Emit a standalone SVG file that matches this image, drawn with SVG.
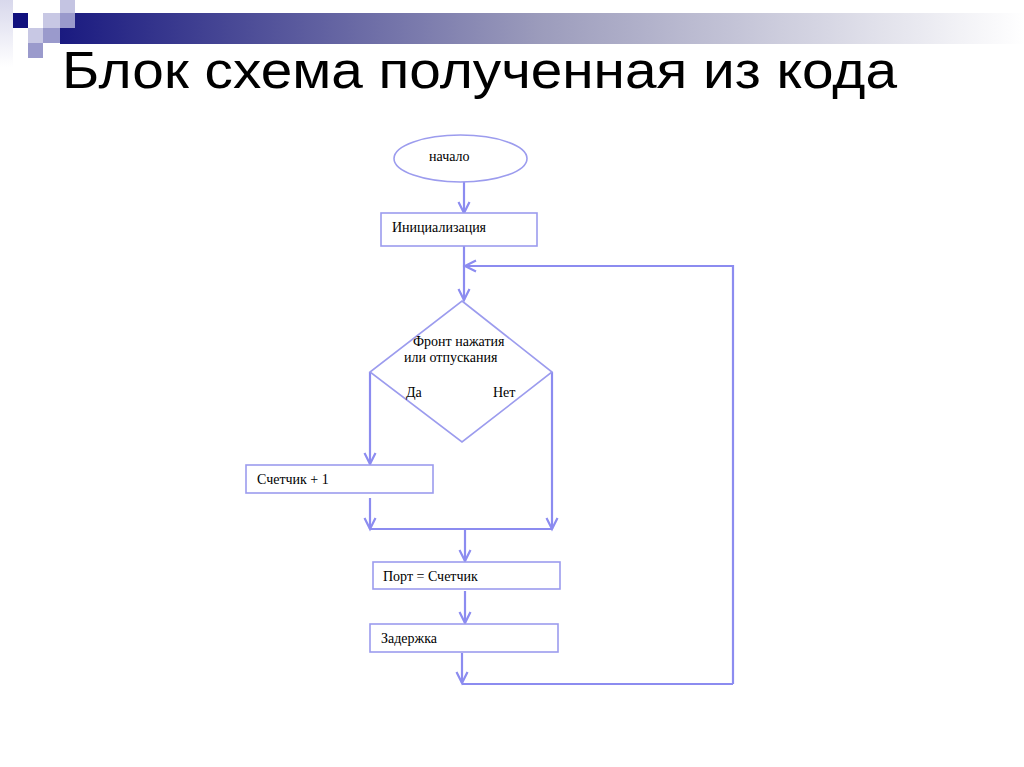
<svg xmlns="http://www.w3.org/2000/svg" width="1024" height="767" viewBox="0 0 1024 767">
<defs>
<linearGradient id="bar" x1="0" y1="0" x2="1" y2="0">
<stop offset="0" stop-color="#1a1a80"/>
<stop offset="0.5" stop-color="#9c9cbc"/>
<stop offset="1" stop-color="#ffffff"/>
</linearGradient>
<linearGradient id="col" x1="0" y1="0" x2="0" y2="1">
<stop offset="0" stop-color="#d8d8ec"/>
<stop offset="1" stop-color="#ffffff"/>
</linearGradient>
<marker id="arr" markerUnits="userSpaceOnUse" markerWidth="16" markerHeight="16" refX="12" refY="6" orient="auto" viewBox="0 0 16 12">
<path d="M1,0.5 L12,6 L1,11.5" fill="none" stroke="#8c8cf0" stroke-width="2.2"/>
</marker>
</defs>
<style>
.ln{fill:none;stroke:#8c8cf0;stroke-width:2.2}
.bx{fill:#ffffff;stroke:#9c9cee;stroke-width:1.6}
.t{font-family:"Liberation Serif","Times New Roman",serif;font-size:14px;fill:#000}
.title{font-family:"Liberation Sans",Arial,sans-serif;font-size:52px;fill:#000}
</style>
<rect width="1024" height="767" fill="#ffffff"/>
<g id="decor">
<rect x="0" y="0" width="13" height="67" fill="url(#col)"/>
<rect x="60" y="13" width="964" height="31" fill="url(#bar)"/>
<rect x="60" y="0" width="15" height="13" fill="#c4c4e2"/>
<rect x="13" y="13" width="15" height="15" fill="#10107e"/>
<rect x="43" y="13" width="17" height="15" fill="#c8c8e4"/>
<rect x="60" y="13" width="15" height="15" fill="#9a9acc"/>
<rect x="28" y="28" width="15" height="15" fill="#c8c8e4"/>
<rect x="43" y="28" width="17" height="15" fill="#9a9acc"/>
<rect x="28" y="43" width="15" height="15" fill="#9a9acc"/>
</g>
<text class="title" x="62" y="88" textLength="835" lengthAdjust="spacingAndGlyphs">Блок схема полученная из кода</text>
<g id="connectors">
<line class="ln" x1="464" y1="182" x2="464" y2="213" marker-end="url(#arr)"/>
<line class="ln" x1="464" y1="246" x2="464" y2="300" marker-end="url(#arr)"/>
<polyline class="ln" points="733,684 733,266 465,266" marker-end="url(#arr)"/>
<polyline class="ln" points="370,372 370,464" marker-end="url(#arr)"/>
<polyline class="ln" points="552,372 552,529" marker-end="url(#arr)"/>
<line class="ln" x1="370" y1="498" x2="370" y2="529" marker-end="url(#arr)"/>
<line class="ln" x1="370" y1="529" x2="552" y2="529"/>
<line class="ln" x1="465" y1="529" x2="465" y2="561" marker-end="url(#arr)"/>
<line class="ln" x1="465" y1="591" x2="465" y2="623" marker-end="url(#arr)"/>
<line class="ln" x1="462" y1="653" x2="462" y2="683" marker-end="url(#arr)"/>
<line class="ln" x1="462" y1="684" x2="733" y2="684"/>
</g>
<g id="start">
<ellipse class="bx" cx="460.5" cy="158.5" rx="66.5" ry="23.5"/>
<text class="t" x="429" y="161">начало</text>
</g>
<g id="init">
<rect class="bx" x="381" y="213" width="156" height="33"/>
<text class="t" x="392" y="232">Инициализация</text>
</g>
<g id="decision">
<polygon class="bx" points="462,301 552,372 462,442 370,372"/>
<text class="t" x="413" y="346">Фронт нажатия</text>
<text class="t" x="404" y="362">или отпускания</text>
<text class="t" x="406" y="397">Да</text>
<text class="t" x="493" y="397">Нет</text>
</g>
<g id="counter">
<rect class="bx" x="246" y="465" width="187" height="28"/>
<text class="t" x="257" y="484">Счетчик + 1</text>
</g>
<g id="port">
<rect class="bx" x="373" y="562" width="187" height="27"/>
<text class="t" x="383" y="581">Порт = Счетчик</text>
</g>
<g id="delay">
<rect class="bx" x="370" y="624" width="188" height="28"/>
<text class="t" x="381" y="643">Задержка</text>
</g>
</svg>
